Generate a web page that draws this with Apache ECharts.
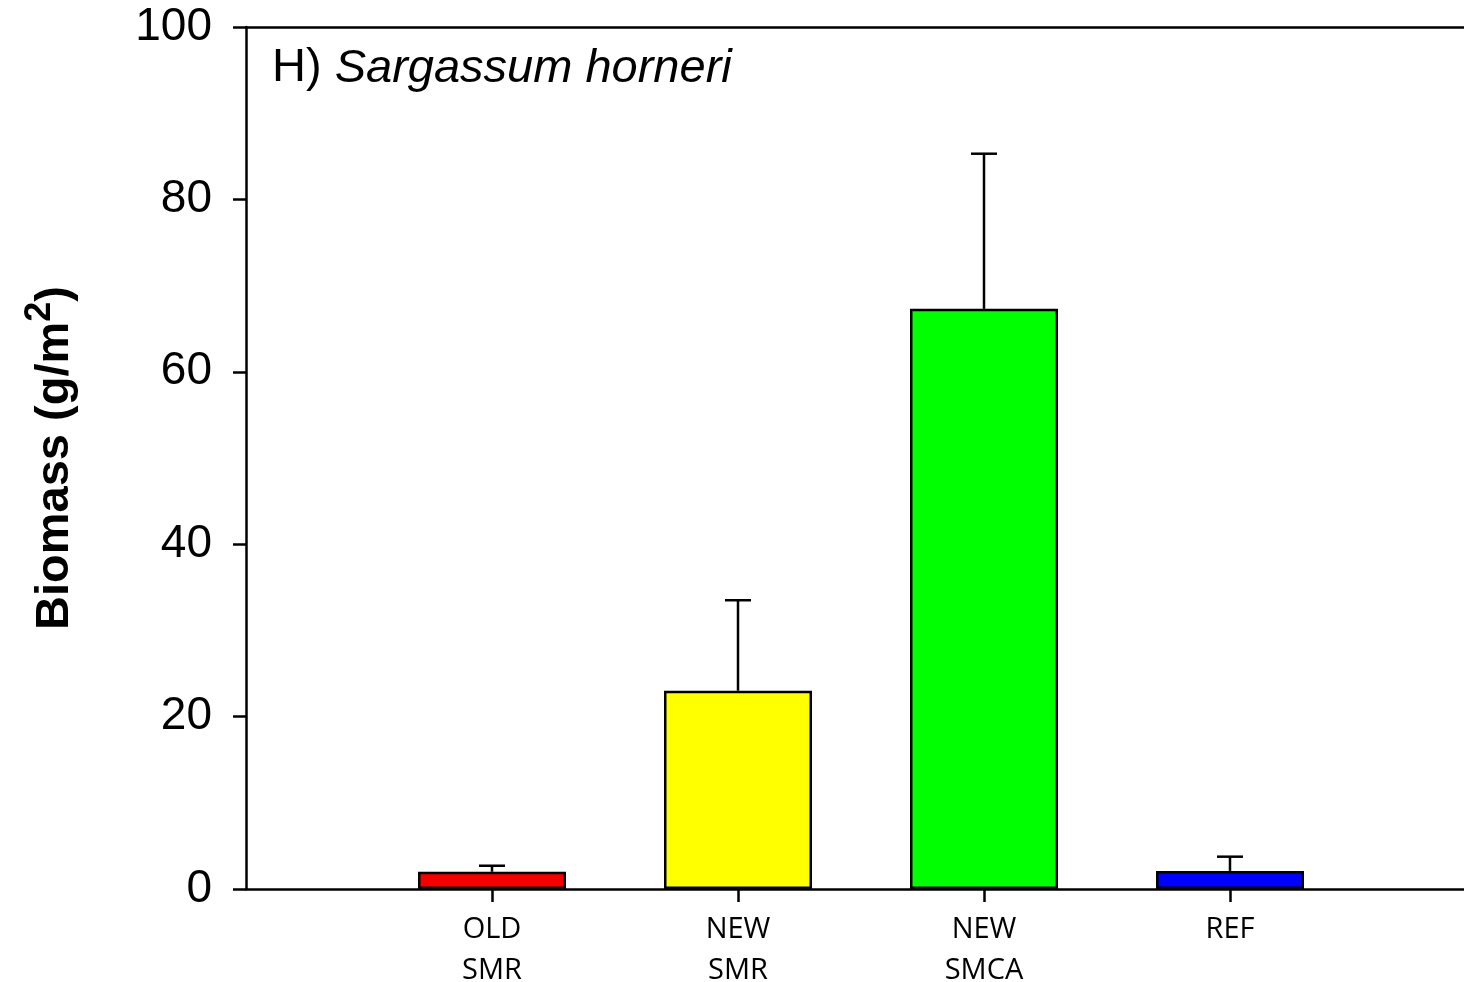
<!DOCTYPE html>
<html>
<head>
<meta charset="utf-8">
<title>Sargassum horneri biomass</title>
<script src="https://cdn.jsdelivr.net/npm/echarts@6/dist/echarts.min.js"></script>
<style>
  html, body { margin: 0; padding: 0; background: #fff; overflow: hidden; }
  #chart { width: 1464px; height: 982px; overflow: hidden; }
</style>
</head>
<body>
<div id="chart"></div>
<script>
// Site categories (x positions 1..4 on a 0..5 value axis)
const categories = ['OLD\nSMR', 'NEW\nSMR', 'NEW\nSMCA', 'REF'];
// Mean biomass (g/m2) and upper error (mean + SE)
const biomassMean = [2.0, 23.0, 67.3, 2.1];
const biomassUpper = [2.7, 33.5, 85.3, 3.75];
const barColors = ['#f50000', '#ffff00', '#00ff00', '#0000ff'];
const yTicks = [0, 20, 40, 60, 80, 100];

const chart = echarts.init(document.getElementById('chart'), null, { renderer: 'canvas' });

const barData = biomassMean.map((v, i) => ({
  value: [i + 1, v],
  itemStyle: { color: barColors[i] }
}));
const errData = biomassMean.map((v, i) => [i + 1, v, biomassUpper[i]]);

const axisLine = { lineStyle: { color: '#000', width: 2.5 } };
const arial = 'Liberation Sans, Arial, sans-serif';

chart.setOption({
  animation: false,
  backgroundColor: '#fff',
  grid: { left: 246, top: 27, width: 1230, height: 862, containLabel: false, outerBoundsMode: 'none' },
  title: {
    left: 267, top: 40,
    text: '{r|H) }{i|Sargassum horneri}',
    textStyle: {
      fontWeight: 'normal',
      rich: {
        r: { fontFamily: arial, fontSize: 47, fontWeight: 'normal', color: '#000' },
        i: { fontFamily: arial, fontSize: 47, fontWeight: 'normal', fontStyle: 'italic', color: '#000' }
      }
    }
  },
  xAxis: [{
    type: 'value', min: 0, max: 5, interval: 1,
    axisLine: axisLine,
    splitLine: { show: false },
    axisTick: { show: true, length: 13, customValues: [1, 2, 3, 4], lineStyle: { color: '#000', width: 2.5 } },
    axisLabel: {
      customValues: [1, 2, 3, 4],
      formatter: (v) => categories[Math.round(v) - 1] || '',
      fontFamily: 'Open Sans, sans-serif', fontSize: 29, color: '#000',
      lineHeight: 41, margin: 20
    }
  }, {
    type: 'value', min: 0, max: 5, position: 'top',
    axisLine: axisLine,
    axisTick: { show: false }, axisLabel: { show: false }, splitLine: { show: false }
  }],
  yAxis: {
    type: 'value', min: 0, max: 100, interval: 20,
    axisLine: axisLine,
    splitLine: { show: false },
    axisTick: { show: true, length: 13, lineStyle: { color: '#000', width: 2.5 } },
    axisLabel: {
      fontFamily: arial, fontSize: 46, color: '#000', margin: 34,
      formatter: (v) => yTicks.includes(v) ? String(v) : ''
    },
    name: '{a|Biomass (g/m}{s|2}{a|)}',
    nameLocation: 'middle', nameRotate: 90, nameGap: 158,
    nameTextStyle: {
      rich: {
        a: { fontFamily: arial, fontSize: 47, fontWeight: 'bold', color: '#000' },
        s: { fontFamily: arial, fontSize: 36, fontWeight: 'bold', color: '#000', verticalAlign: 'top', padding: [0, 0, 30, 0] }
      }
    }
  },
  series: [{
    type: 'bar',
    data: barData,
    barWidth: 148,
    itemStyle: { borderColor: '#000', borderWidth: 2.5 },
    z: 2
  }, {
    type: 'custom',
    data: errData,
    z: 3,
    renderItem: (params, api) => {
      const base = api.coord([api.value(0), api.value(1)]);
      const top = api.coord([api.value(0), api.value(2)]);
      const half = 13;
      const style = { stroke: '#000', lineWidth: 2.5 };
      return {
        type: 'group',
        children: [
          { type: 'line', shape: { x1: base[0], y1: base[1], x2: top[0], y2: top[1] }, style },
          { type: 'line', shape: { x1: top[0] - half, y1: top[1], x2: top[0] + half, y2: top[1] }, style }
        ]
      };
    }
  }]
});
</script>
</body>
</html>
